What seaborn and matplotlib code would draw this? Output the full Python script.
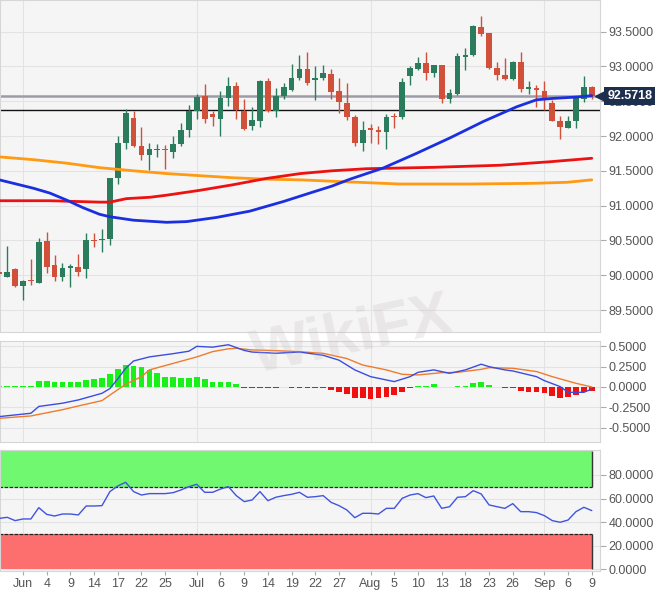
import numpy as np
import pandas as pd
import seaborn as sns
import matplotlib.pyplot as plt
import matplotlib.transforms as mtransforms
from matplotlib.patches import Rectangle

# daily candles, 27 May - 9 Sep 2021
days = pd.bdate_range('2021-05-27', '2021-09-09')

opens = [90.04, 89.98, 90.09, 89.84, 89.93, 89.89, 90.49, 90.14, 89.97, 90.11,
         90.12, 90.09, 90.51, 90.50, 90.52, 91.40, 91.90, 92.26, 91.85, 91.72,
         91.80, 91.82, 91.77, 91.89, 92.09, 92.36, 92.57, 92.31, 92.25, 92.54,
         92.72, 92.36, 92.14, 92.22, 92.79, 92.36, 92.57, 92.66, 92.84, 92.96,
         92.80, 92.84, 92.89, 92.64, 92.48, 92.28, 91.90, 92.11, 92.08, 92.06,
         92.29, 92.27, 92.86, 92.96, 93.05, 92.91, 93.02, 92.53, 92.61, 93.14,
         93.16, 93.56, 93.48, 92.98, 92.88, 92.82, 93.07, 92.68, 92.69, 92.65,
         92.48, 92.21, 92.11, 92.22, 92.53, 92.71]
highs = [90.08, 90.42, 90.10, 89.93, 90.23, 90.54, 90.62, 90.29, 90.17, 90.16,
         90.30, 90.60, 90.60, 90.66, 91.40, 92.00, 92.39, 92.36, 92.13, 91.90,
         91.89, 91.87, 92.00, 92.18, 92.45, 92.61, 92.75, 92.36, 92.65, 92.85,
         92.78, 92.53, 92.42, 92.81, 92.83, 92.69, 92.76, 93.03, 93.16, 93.20,
         93.01, 93.02, 92.96, 92.84, 92.76, 92.30, 92.21, 92.17, 92.15, 92.32,
         92.33, 92.83, 93.01, 93.14, 93.20, 93.02, 93.02, 92.67, 93.19, 93.26,
         93.59, 93.72, 93.48, 93.07, 93.12, 93.08, 93.20, 92.79, 92.73, 92.79,
         92.52, 92.29, 92.29, 92.56, 92.86, 92.72]
lows = [89.98, 89.97, 89.83, 89.65, 89.86, 89.89, 90.03, 89.91, 89.91, 89.83,
        89.99, 89.96, 90.40, 90.34, 90.43, 91.31, 91.81, 91.84, 91.66, 91.51,
        91.70, 91.52, 91.69, 91.86, 91.99, 92.25, 92.18, 92.14, 92.00, 92.43,
        92.24, 92.09, 92.09, 92.13, 92.35, 92.27, 92.53, 92.64, 92.80, 92.73,
        92.52, 92.80, 92.53, 92.33, 92.23, 91.85, 91.78, 91.90, 91.89, 91.82,
        92.11, 92.25, 92.73, 92.95, 92.80, 92.85, 92.47, 92.47, 92.59, 92.95,
        93.15, 93.44, 92.96, 92.81, 92.80, 92.80, 92.63, 92.61, 92.42, 92.38,
        92.21, 91.95, 92.11, 92.11, 92.49, 92.53]
closes = [90.02, 90.05, 89.84, 89.92, 89.91, 90.48, 90.12, 89.98, 90.11, 90.13,
          90.05, 90.51, 90.49, 90.52, 91.39, 91.90, 92.33, 91.85, 91.72, 91.81,
          91.82, 91.80, 91.88, 92.09, 92.36, 92.56, 92.24, 92.27, 92.54, 92.72,
          92.37, 92.10, 92.23, 92.79, 92.36, 92.57, 92.71, 92.83, 92.96, 92.76,
          92.84, 92.90, 92.63, 92.49, 92.28, 91.90, 92.08, 92.09, 92.06, 92.28,
          92.27, 92.78, 92.97, 93.05, 92.91, 93.02, 92.53, 92.62, 93.15, 93.16,
          93.58, 93.46, 92.98, 92.88, 92.82, 93.07, 92.68, 92.70, 92.66, 92.52,
          92.22, 92.13, 92.21, 92.54, 92.71, 92.5718]

last_price = 92.5718
support_level = 92.374

# moving averages (read at candle positions)
sma_fast_at = [0, 4.3, 6.4, 8.5, 10.6, 12.7, 14, 17, 21.2, 23.7, 27.5, 31.7, 36, 39.3,
               42.1, 44.4, 48.6, 52.8, 57, 61.3, 65.5, 68, 70.1, 73.1, 75]
sma_fast = [91.37, 91.25, 91.18, 91.08, 90.97, 90.875, 90.84, 90.79, 90.76, 90.77,
            90.83, 90.92, 91.06, 91.18, 91.28, 91.38, 91.54, 91.75, 91.97, 92.21,
            92.42, 92.52, 92.54, 92.56, 92.58]
sma_mid_at = [0, 6.4, 12.7, 14, 16.1, 19.1, 21.2, 25.4, 29.6, 33.8, 38.1, 42.1, 46.5,
              55, 63.4, 69.7, 75]
sma_mid = [91.07, 91.07, 91.05, 91.05, 91.10, 91.12, 91.15, 91.22, 91.30, 91.39, 91.46,
           91.50, 91.53, 91.55, 91.58, 91.63, 91.68]
sma_slow_at = [0, 4.3, 8.5, 12.7, 17, 21.2, 25.4, 29.6, 33.8, 38.1, 42.1, 44.4, 50.7,
               59.2, 67.6, 71.9, 75]
sma_slow = [91.70, 91.66, 91.61, 91.545, 91.50, 91.46, 91.43, 91.40, 91.38, 91.37,
            91.35, 91.34, 91.31, 91.31, 91.32, 91.335, 91.37]

# MACD
macd_at = [0, 4, 5, 8, 10, 13, 14, 15, 16, 17, 19, 22, 24, 25, 27, 29, 31, 32, 35, 38,
           41, 43, 45, 47, 49, 50, 52, 53, 55, 57, 59, 61, 62, 64, 65, 68, 69, 71, 72, 74, 75]
macd_line = [-0.365, -0.324, -0.24, -0.20, -0.16, -0.078, -0.02, 0.10, 0.23, 0.32, 0.37,
             0.41, 0.44, 0.50, 0.49, 0.52, 0.45, 0.43, 0.415, 0.43, 0.39, 0.33, 0.21,
             0.127, 0.086, 0.066, 0.127, 0.18, 0.21, 0.168, 0.21, 0.28, 0.25, 0.21,
             0.197, 0.127, 0.078, 0.004, -0.066, -0.066, -0.025]
signal_at = [0, 4, 8, 10, 13, 14, 16, 18, 19, 22, 25, 27, 29, 30, 32, 35, 38, 41, 44, 46,
             49, 51, 53, 56, 58, 61, 62, 65, 68, 70, 73, 75]
signal_line = [-0.386, -0.357, -0.28, -0.234, -0.168, -0.10, 0.033, 0.127, 0.21, 0.29,
               0.37, 0.435, 0.47, 0.476, 0.456, 0.447, 0.434, 0.414, 0.35, 0.27, 0.21,
               0.156, 0.148, 0.176, 0.18, 0.217, 0.238, 0.23, 0.19, 0.127, 0.045, 0.0]
macd_hist = [0.010, 0.012, 0.015, 0.015, 0.015, 0.074, 0.070, 0.066, 0.066, 0.066,
             0.066, 0.090, 0.100, 0.115, 0.160, 0.220, 0.270, 0.260, 0.240, 0.210,
             0.170, 0.127, 0.120, 0.115, 0.115, 0.120, 0.094, 0.066, 0.066, 0.066,
             0.033, -0.012, -0.010, -0.012, -0.012, -0.012, -0.005, -0.010, -0.010, -0.010,
             -0.012, -0.015, -0.035, -0.065, -0.090, -0.130, -0.140, -0.148, -0.140, -0.120,
             -0.100, -0.057, -0.010, 0.012, 0.012, 0.033, 0.004, -0.005, 0.010, 0.012,
             0.045, 0.065, 0.025, 0.005, -0.012, -0.012, -0.050, -0.057, -0.065, -0.078,
             -0.107, -0.130, -0.123, -0.098, -0.066, -0.050]

# RSI
rsi = [43.2, 44.1, 41.3, 42.7, 42.7, 52.3, 46.6, 45.2, 46.9, 46.9,
       46.1, 53.7, 53.7, 54.0, 65.9, 70.7, 73.8, 65.9, 63.0, 64.2,
       64.2, 64.2, 65.0, 67.3, 70.1, 72.1, 65.3, 65.3, 68.1, 70.1,
       62.5, 57.4, 58.8, 65.9, 58.2, 61.1, 62.5, 63.6, 65.3, 61.1,
       61.6, 62.5, 56.8, 54.0, 50.3, 43.8, 47.5, 47.5, 46.9, 51.7,
       51.7, 60.2, 63.0, 64.2, 60.8, 62.2, 51.7, 53.1, 61.1, 61.6,
       66.7, 63.9, 54.6, 53.1, 51.7, 55.7, 48.9, 48.9, 48.1, 45.5,
       41.3, 39.9, 41.8, 48.9, 52.6, 49.8]

tick_dates = ['2021-06-01', '2021-06-04', '2021-06-09', '2021-06-14', '2021-06-17',
              '2021-06-22', '2021-06-25', '2021-07-01', '2021-07-06', '2021-07-09',
              '2021-07-14', '2021-07-19', '2021-07-22', '2021-07-27', '2021-08-02',
              '2021-08-05', '2021-08-10', '2021-08-13', '2021-08-18', '2021-08-23',
              '2021-08-26', '2021-09-01', '2021-09-06', '2021-09-09']
tick_labels = ['Jun', '4', '9', '14', '17', '22', '25', 'Jul', '6', '9', '14', '19', '22',
               '27', 'Aug', '5', '10', '13', '18', '23', '26', 'Sep', '6', '9']
month_starts = ['2021-06-01', '2021-07-01', '2021-08-02', '2021-09-01']

price_ticks = [89.5, 90.0, 90.5, 91.0, 91.5, 92.0, 92.5, 93.0, 93.5]
macd_ticks = [-0.5, -0.25, 0.0, 0.25, 0.5]
rsi_ticks = [0, 20, 40, 60, 80]

sns.set_theme(style='white')
plt.rcParams['font.family'] = ['Liberation Sans', 'DejaVu Sans']

UP = '#2b7b5d'
DOWN = '#d1503a'
TXT = '#555555'
GRID = '#e3e3e3'
FACE = '#f5f5f5'

pos = np.arange(len(days))
o, h, l, c = map(np.array, (opens, highs, lows, closes))
tick_pos = days.get_indexer(pd.to_datetime(tick_dates))
month_pos = days.get_indexer(pd.to_datetime(month_starts))
xlim = (0.09, 76.04)

fig = plt.figure(figsize=(6.64, 6.02), dpi=100)
fig.patch.set_facecolor('white')
ax_p = fig.add_axes([0.0, 0.4477, 0.9036, 0.5523])
ax_m = fig.add_axes([0.0, 0.2663, 0.9036, 0.1678], sharex=ax_p)
ax_r = fig.add_axes([0.0, 0.0515, 0.9036, 0.2010], sharex=ax_p)

for ax in (ax_p, ax_m, ax_r):
    ax.set_facecolor(FACE)
    for sp in ax.spines.values():
        sp.set_color('#d6d6d6')
        sp.set_linewidth(0.8)
    ax.yaxis.tick_right()
    ax.tick_params(axis='y', direction='out', length=4, width=0.8, color='#aaaaaa',
                   labelcolor=TXT, labelsize=9, pad=2, right=True, left=False)
    for m in month_pos:
        ax.axvline(m, color=GRID, lw=0.8, zorder=0)

# --- price panel
for t in price_ticks:
    ax_p.axhline(t, color=GRID, lw=0.8, zorder=0)
up = c >= o
cols = np.where(up, UP, DOWN)
ax_p.vlines(pos, l, h, colors=cols, lw=1.0, zorder=2)
body = np.maximum(np.abs(c - o), 0.012)
ax_p.bar(pos, body, bottom=np.minimum(o, c), width=0.72, color=cols, lw=0, zorder=3)

sns.lineplot(x=sma_slow_at, y=sma_slow, ax=ax_p, color='#ff9a12', lw=2, zorder=4)
sns.lineplot(x=sma_mid_at, y=sma_mid, ax=ax_p, color='#ee1111', lw=2, zorder=4)
sns.lineplot(x=sma_fast_at, y=sma_fast, ax=ax_p, color='#1b2fe0', lw=2, zorder=5)
ax_p.axhline(last_price, color='#9c9ca8', lw=1.8, zorder=1)
ax_p.axhline(support_level, color='#111111', lw=1.0, zorder=1)

ax_p.set_ylim(89.177, 93.954)
ax_p.set_yticks(price_ticks)
ax_p.set_yticklabels([f'{t:.4f}' for t in price_ticks])
blend = mtransforms.blended_transform_factory(ax_p.transAxes, ax_p.transData)
ax_p.text(1.015, 94.0, '94.0000', transform=blend, va='center', ha='left',
          fontsize=9, color=TXT, clip_on=False)
ax_p.plot([1.0], [last_price], marker='<', ms=7, color='#1e2f4d', transform=blend,
          clip_on=False, zorder=10)
ax_p.text(1.012, last_price, '92.5718', transform=blend, va='center', ha='left',
          fontsize=9, fontweight='bold', color='white', clip_on=False, zorder=11,
          bbox=dict(boxstyle='square,pad=0.22', fc='#1e2f4d', ec='none'))
ax_p.tick_params(axis='x', bottom=False, labelbottom=False)

# --- MACD panel
for t in macd_ticks:
    ax_m.axhline(t, color=GRID, lw=0.8, zorder=0)
hist = np.array(macd_hist)
ax_m.bar(pos, hist, width=0.72, color=np.where(hist >= 0, '#19f019', '#f01010'),
         lw=0, zorder=2)
sns.lineplot(x=signal_at, y=signal_line, ax=ax_m, color='#f07b2c', lw=1.0, zorder=3)
sns.lineplot(x=macd_at, y=macd_line, ax=ax_m, color='#3a4de0', lw=1.0, zorder=4)
ax_m.set_ylim(-0.674, 0.570)
ax_m.set_yticks(macd_ticks)
ax_m.set_yticklabels([f'{t:.4f}' for t in macd_ticks])
ax_m.tick_params(axis='x', bottom=False, labelbottom=False)

# --- RSI panel
for t in rsi_ticks:
    ax_r.axhline(t, color=GRID, lw=0.8, zorder=0)
ax_r.add_patch(Rectangle((-2, 70), 77, 30, fc='#70f870', ec='none', zorder=1))
ax_r.add_patch(Rectangle((-2, 0), 77, 30, fc='#fd6f6f', ec='none', zorder=1))
ax_r.hlines([70, 30], -2, 75, colors='#222222', lw=0.9, linestyles=(0, (3, 1)), zorder=2)
ax_r.vlines(75, 70, 100, colors='#333333', lw=1.0, zorder=2)
ax_r.vlines(75, 0, 30, colors='#333333', lw=1.0, zorder=2)
sns.lineplot(x=pos, y=rsi, ax=ax_r, color='#3f55dd', lw=1.0, zorder=3)
ax_r.set_ylim(-1.44, 101.2)
ax_r.set_yticks(rsi_ticks)
ax_r.set_yticklabels([f'{t:.4f}' for t in rsi_ticks])

ax_r.set_xlim(*xlim)
ax_r.set_xticks(tick_pos)
ax_r.set_xticklabels(tick_labels)
ax_r.tick_params(axis='x', bottom=True, direction='out', length=3, width=0.8,
                 color='#aaaaaa', labelcolor=TXT, labelsize=9, pad=2)
for ax in (ax_p, ax_m, ax_r):
    ax.set_xlabel('')
    ax.set_ylabel('')
    ax.grid(False)

# faint watermark
fig.text(0.53, 0.44, 'WikiFX', fontsize=44, fontweight='bold', color='#bdb3b3',
         alpha=0.22, rotation=12, ha='center', va='center')

fig.savefig('out.png', dpi=100, facecolor='white')
